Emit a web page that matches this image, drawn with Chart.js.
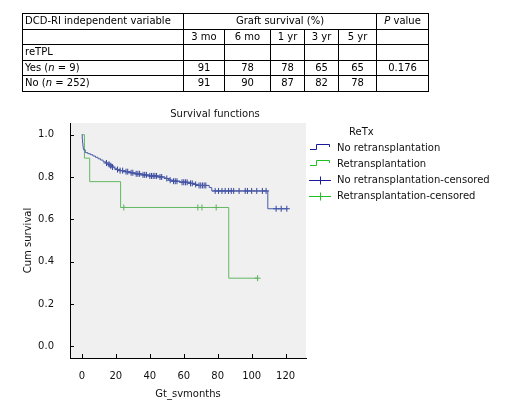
<!DOCTYPE html>
<html>
<head>
<meta charset="utf-8">
<script src="https://cdn.jsdelivr.net/npm/chart.js@4.4.0/dist/chart.umd.min.js"></script>
<style>
  body { margin: 0; background: #fff; }
  #wrap { position: absolute; left: 0; top: 0; width: 516px; height: 400px; }
  table {
    position: absolute; left: 22px; top: 13px;
    border-collapse: collapse; table-layout: fixed; width: 406px;
    font: 10px "DejaVu Sans", sans-serif; color: #000;
  }
  td { border: 1px solid #000; padding: 0 2px; height: 14.6px; line-height: 14.6px; text-align: center; white-space: nowrap; overflow: hidden; }
  td.l { text-align: left; }
</style>
</head>
<body>
<div id="wrap"><canvas id="kmChart"></canvas></div>

<table>
  <colgroup>
    <col style="width:161px"><col style="width:41px"><col style="width:46px"><col style="width:34px">
    <col style="width:34px"><col style="width:38px"><col style="width:52px">
  </colgroup>
  <tr><td class="l">DCD-RI independent variable</td><td colspan="5">Graft survival (%)</td><td><i>P</i> value</td></tr>
  <tr><td></td><td>3 mo</td><td>6 mo</td><td>1 yr</td><td>3 yr</td><td>5 yr</td><td></td></tr>
  <tr><td class="l">reTPL</td><td></td><td></td><td></td><td></td><td></td><td></td></tr>
  <tr><td class="l">Yes (<i>n</i> = 9)</td><td>91</td><td>78</td><td>78</td><td>65</td><td>65</td><td>0.176</td></tr>
  <tr><td class="l">No (<i>n</i> = 252)</td><td>91</td><td>90</td><td>87</td><td>82</td><td>78</td><td></td></tr>
</table>

<script>
// Axis ticks
const xTicks = [0, 20, 40, 60, 80, 100, 120]
const yTicks = [0, 0.2, 0.4, 0.6, 0.8, 1.0]

// No retransplantation (blue) - step times and survival after each step
const blueTimes = [0, 0.2, 0.4, 0.6, 0.8, 1, 2, 3.5, 5, 6.5, 8, 9.5, 11, 12.5, 14, 15.5, 16.5, 17.5, 19, 20.5,
  22, 25, 28, 31, 35, 39, 45, 49, 51, 53, 58, 63, 66, 68, 75, 76.5, 109.5, 121]
const blueSurvival = [1, 0.98, 0.96, 0.945, 0.935, 0.928, 0.915, 0.91, 0.905, 0.899, 0.893, 0.886, 0.88, 0.872,
  0.866, 0.86, 0.853, 0.847, 0.841, 0.835, 0.83, 0.825, 0.82, 0.815, 0.81, 0.805, 0.8, 0.793, 0.785, 0.78,
  0.775, 0.77, 0.765, 0.76, 0.75, 0.734, 0.65, 0.65]
const blueCensored = [14.5, 16, 17, 18, 21, 22.5, 24, 26, 27, 29, 30, 32, 33, 34, 36, 37, 38, 40, 41, 42, 43, 44,
  46, 47, 50, 52, 54, 55, 56, 59, 60, 61, 62, 64, 65, 67, 69, 70, 71, 72, 73, 78.5, 80.5, 82.5, 84.4, 86.4, 88,
  89.4, 92.6, 96.2, 97.5, 100, 103, 106.3, 108.5, 114.4, 117.4, 120.7]

// Retransplantation (green)
const greenTimes = [0, 1.5, 4.6, 22.8, 86.5, 103.5]
const greenSurvival = [1, 0.889, 0.778, 0.656, 0.322, 0.322]
const greenCensored = [24.7, 68.3, 70.7, 79.1, 103.5]

const legendLabels = ["No retransplantation", "Retransplantation", "No retransplantation-censored", "Retransplantation-censored"]

const FONT = "DejaVu Sans"

function survivalAt(times, surv, t) {
  let s = surv[0]
  for (let i = 0; i < times.length; i++) {
    if (times[i] <= t) s = surv[i]
  }
  return s
}

function steps(times, surv) {
  return times.map((t, i) => ({ x: t, y: surv[i] }))
}

function marks(cens, times, surv) {
  return cens.map((t) => ({ x: t, y: survivalAt(times, surv, t) }))
}

// Grey plot area, inward tick marks, title and legend
const kmPlugin = {
  id: "km",
  beforeDraw(chart) {
    const { ctx, chartArea: a } = chart
    ctx.save()
    ctx.fillStyle = "#f0f0f0"
    ctx.fillRect(a.left, a.top, a.right - a.left, a.bottom - a.top)
    ctx.restore()
  },
  afterDraw(chart) {
    const { ctx, chartArea: a } = chart
    const xs = chart.scales.x
    const ys = chart.scales.y
    ctx.save()
    ctx.strokeStyle = "#000"
    ctx.lineWidth = 1
    ctx.beginPath()
    yTicks.forEach((v) => {
      const y = Math.round(ys.getPixelForValue(v)) + 0.5
      ctx.moveTo(a.left, y)
      ctx.lineTo(a.left + 4, y)
    })
    xTicks.forEach((v) => {
      const x = Math.round(xs.getPixelForValue(v)) + 0.5
      ctx.moveTo(x, a.bottom)
      ctx.lineTo(x, a.bottom - 4)
    })
    ctx.stroke()

    // title
    ctx.fillStyle = "#111"
    ctx.font = "10px '" + FONT + "'"
    ctx.textAlign = "center"
    ctx.textBaseline = "middle"
    ctx.fillText("Survival functions", 215, 114)

    // legend
    ctx.textAlign = "left"
    ctx.fillText("ReTx", 349, 132)
    const colors = ["#1a1a9c", "#22c022", "#1a1a9c", "#22c022"]
    legendLabels.forEach((label, i) => {
      const y = 148 + i * 16
      ctx.strokeStyle = colors[i]
      ctx.beginPath()
      if (i < 2) {
        ctx.moveTo(310, y + 1.5)
        ctx.lineTo(316.5, y + 1.5)
        ctx.lineTo(316.5, y - 3.5)
        ctx.lineTo(329.5, y - 3.5)
        ctx.lineTo(329.5, y - 1)
      } else {
        ctx.moveTo(309, y + 0.5)
        ctx.lineTo(331, y + 0.5)
        ctx.moveTo(320.5, y - 3.5)
        ctx.lineTo(320.5, y + 4.5)
      }
      ctx.stroke()
      ctx.fillStyle = "#111"
      ctx.fillText(label, 337, y + 0.5)
    })
    ctx.restore()
  },
}

const tickFont = { family: FONT, size: 10 }

new Chart(document.getElementById("kmChart"), {
  type: "line",
  data: {
    datasets: [
      {
        label: legendLabels[0],
        data: steps(blueTimes, blueSurvival),
        borderColor: "#4a5caa",
        borderWidth: 1,
        stepped: true,
        pointRadius: 0,
        fill: false,
      },
      {
        label: legendLabels[1],
        data: steps(greenTimes, greenSurvival),
        borderColor: "#62b862",
        borderWidth: 1,
        stepped: true,
        pointRadius: 0,
        fill: false,
      },
      {
        label: legendLabels[2],
        type: "scatter",
        data: marks(blueCensored, blueTimes, blueSurvival),
        pointStyle: "cross",
        pointRadius: 3,
        borderColor: "#34449c",
        borderWidth: 1,
      },
      {
        label: legendLabels[3],
        type: "scatter",
        data: marks(greenCensored, greenTimes, greenSurvival),
        pointStyle: "cross",
        pointRadius: 3,
        borderColor: "#5aae5a",
        borderWidth: 1,
      },
    ],
  },
  options: {
    responsive: true,
    maintainAspectRatio: false,
    animation: false,
    layout: { padding: { top: 123, left: 0, right: 210, bottom: 0 } },
    plugins: {
      legend: { display: false },
      tooltip: { enabled: false },
    },
    scales: {
      x: {
        type: "linear",
        min: -7,
        max: 132,
        afterBuildTicks: (scale) => {
          scale.ticks = xTicks.map((v) => ({ value: v }))
        },
        afterFit: (scale) => {
          scale.height = 42
        },
        grid: { display: false },
        border: { display: true, color: "#000", width: 1 },
        ticks: { color: "#111", font: tickFont, padding: 4, maxRotation: 0 },
        title: { display: true, text: "Gt_svmonths", color: "#111", font: tickFont, padding: { top: 11, bottom: 0 } },
      },
      y: {
        min: -0.055,
        max: 1.055,
        afterBuildTicks: (scale) => {
          scale.ticks = yTicks.map((v) => ({ value: v }))
        },
        afterFit: (scale) => {
          scale.width = 70
        },
        grid: { display: false },
        border: { display: true, color: "#000", width: 1 },
        ticks: { color: "#111", font: tickFont, padding: 8, callback: (v) => v.toFixed(1) },
        title: { display: true, text: "Cum survival", color: "#111", font: tickFont, padding: { top: 22, bottom: 0 } },
      },
    },
  },
  plugins: [kmPlugin],
})
</script>
</body>
</html>
